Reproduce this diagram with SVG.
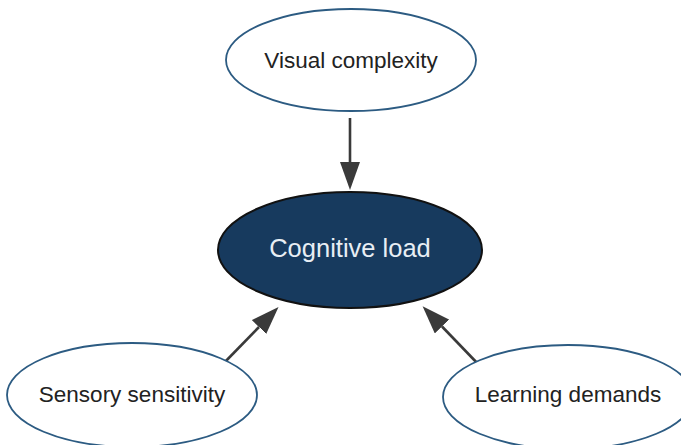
<svg xmlns="http://www.w3.org/2000/svg" width="681" height="445" viewBox="0 0 681 445">
  <style>
    .node-outer { fill: #ffffff; stroke: #2c5b82; stroke-width: 1.8; }
    .node-core { fill: #173a5e; stroke: #111111; stroke-width: 2; }
    .label { font-family: "Liberation Sans", Arial, sans-serif; font-size: 22.5px; text-anchor: middle; fill: #222222; }
    .label-core { font-family: "Liberation Sans", Arial, sans-serif; font-size: 25.5px; text-anchor: middle; fill: #e8eef4; }
    .edge { stroke: #3a3a3a; stroke-width: 2.6; fill: none; marker-end: url(#arrow); }
  </style>
  <defs>
    <marker id="arrow" viewBox="0 0 28 20" refX="0" refY="10" markerWidth="28" markerHeight="20" markerUnits="userSpaceOnUse" orient="auto">
      <path d="M0,0 L28,10 L0,20 z" fill="#3a3a3a"/>
    </marker>
  </defs>
  <rect width="681" height="445" fill="#ffffff"/>

  <g id="edges">
    <line class="edge" x1="350" y1="118" x2="350" y2="162"/>
    <line class="edge" x1="222" y1="365" x2="259" y2="327"/>
    <line class="edge" x1="480" y1="366" x2="442" y2="326.5"/>
  </g>

  <g id="node-visual-complexity">
    <ellipse class="node-outer" cx="351" cy="60" rx="125" ry="51"/>
    <text class="label" x="351" y="68">Visual complexity</text>
  </g>

  <g id="node-cognitive-load">
    <ellipse class="node-core" cx="350" cy="250" rx="132" ry="58"/>
    <text class="label-core" x="350" y="257">Cognitive load</text>
  </g>

  <g id="node-sensory-sensitivity">
    <ellipse class="node-outer" cx="132" cy="395" rx="125" ry="52"/>
    <text class="label" x="132" y="402">Sensory sensitivity</text>
  </g>

  <g id="node-learning-demands">
    <ellipse class="node-outer" cx="568" cy="397" rx="125" ry="52"/>
    <text class="label" x="568" y="402">Learning demands</text>
  </g>
</svg>
